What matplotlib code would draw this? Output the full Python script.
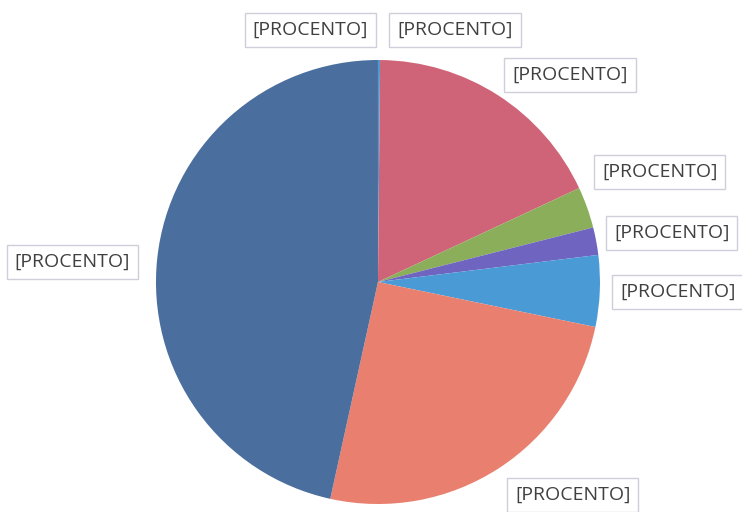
import matplotlib.pyplot as plt
import numpy as np

# slice values (percent), clockwise from 12 o'clock
values = [0.15, 17.9, 3.0, 2.0, 5.2, 25.2, 46.55, 0.001]
labels = ["[PROCENTO]"] * 8
colors = ["#4a9ad6", "#cf6479", "#8aae5a", "#6f65c0", "#4a9ad6", "#e9806f", "#4a6f9e", "#4a6f9e"]

# label centres in pie-radius units (layout only)
label_pos = [(0.347, 1.135), (0.865, 0.932), (1.27, 0.495), (1.324, 0.22),
             (1.351, -0.045), (0.878, -0.96), (-1.378, 0.09), (-0.306, 1.135)]

fig = plt.figure(figsize=(7.42, 5.12), dpi=100)
ax = fig.add_axes([0.2102, 0.0156, 0.5984, 0.8672])
ax.pie(values, colors=colors, startangle=90, counterclock=False,
       wedgeprops=dict(linewidth=0))
ax.set_xlim(-1, 1)
ax.set_ylim(-1, 1)
ax.set_aspect("equal")
ax.axis("off")

for lab, (x, y) in zip(labels, label_pos):
    ax.text(x, y, lab, ha="center", va="center", fontsize=14,
            family="Open Sans", color="#404040", clip_on=False,
            bbox=dict(boxstyle="square,pad=0.4", fc="white", ec="#cfcfdc", lw=1))

fig.savefig("out.png", dpi=100)
